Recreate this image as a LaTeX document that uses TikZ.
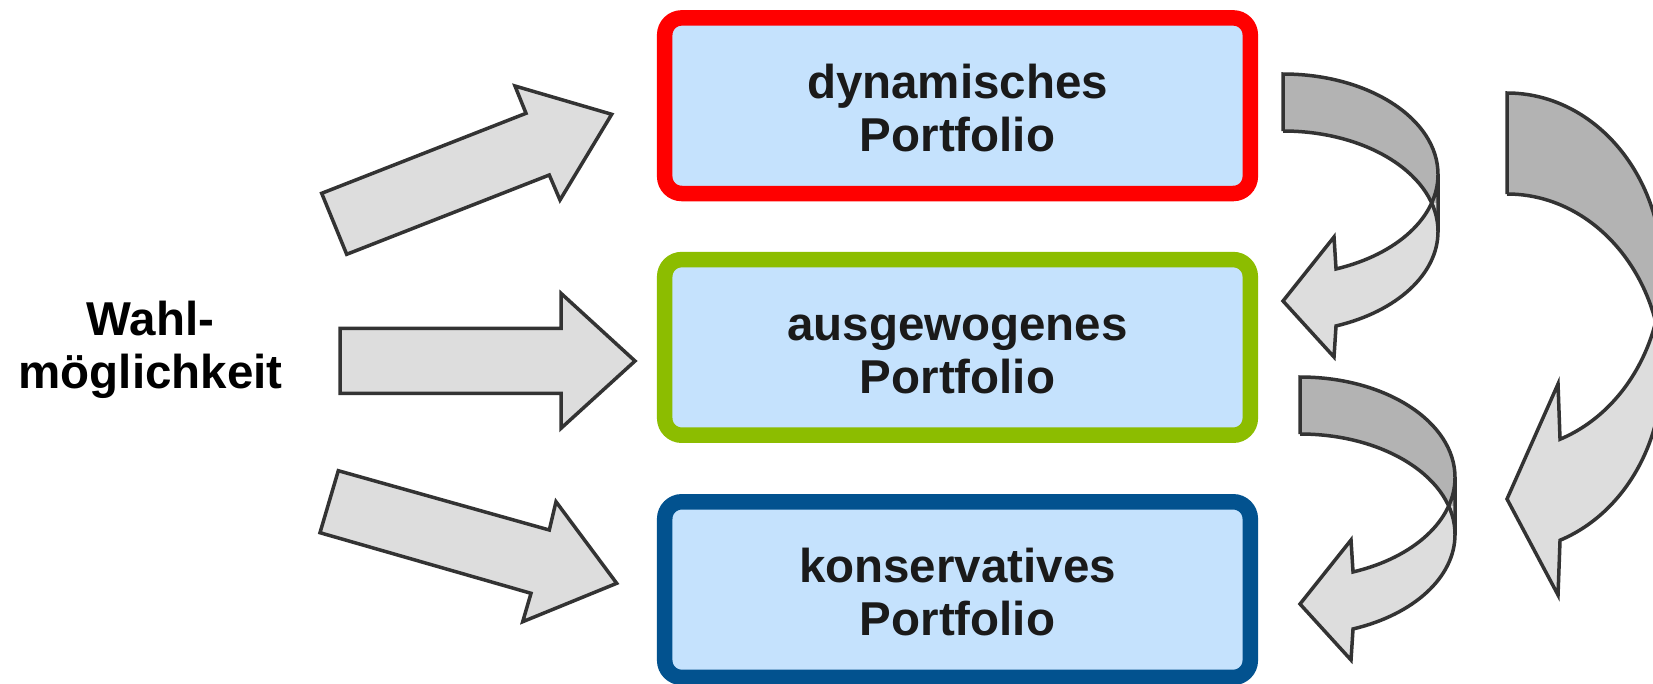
\documentclass[tikz,border=0pt]{standalone}
\usepackage{fontspec}
\setmainfont{Liberation Sans}
\definecolor{boxfill}{HTML}{C5E2FD}
\definecolor{redb}{HTML}{FF0000}
\definecolor{greenb}{HTML}{8CBD00}
\definecolor{blueb}{HTML}{02528F}
\definecolor{arrlight}{HTML}{DDDDDD}
\definecolor{arrdark}{HTML}{B3B3B3}
\definecolor{arrline}{HTML}{333333}
\definecolor{textcol}{HTML}{1A1A1A}
\newcommand{\lblfont}{\fontsize{47.5}{53}\selectfont\bfseries}
\newcommand{\fl}{\rule{0pt}{39.5pt}}
\tikzset{
  pbox/.style={draw, line width=15.5pt, rounded corners=17pt, fill=boxfill,
    minimum width=585.6pt, minimum height=175.6pt, inner sep=0pt,
    align=center, font=\lblfont, text=textcol},
  blockarr/.style={fill=arrlight, draw=arrline, line width=3.5pt, line join=miter},
  arrout/.style={draw=arrline, line width=3.5pt, line join=miter}
}
% curved arrow: #1 cx, #2 cy (screen), #3 rx, #4 ry, #5 thickness, #6 head top, #7 tip, #8 head bottom (below cy)
\newcommand{\curvedarr}[8]{%
  \pgfmathsetmacro\cAx{#1}%
  \pgfmathsetmacro\cAy{-(#2)}%
  \pgfmathsetmacro\cArx{#3}%
  \pgfmathsetmacro\cAry{#4}%
  \pgfmathsetmacro\cAt{#5}%
  \pgfmathsetmacro\cAphi{asin(#5/2/#4)}%
  \pgfmathsetmacro\cAxx{#1+#3*cos(\cAphi)}%
  \pgfmathsetmacro\cAnx{#1+#3*cos(70)}%
  \pgfmathsetmacro\cAny{\cAy-#4*sin(70)}%
  \pgfmathsetmacro\cAnyb{\cAy-#5-#4*sin(70)}%
  \pgfmathsetmacro\cAhx{\cAnx-2}%
  \fill[arrdark] (\cAx,\cAy+\cAry)
    arc[start angle=90,end angle=0,x radius=\cArx,y radius=\cAry]
    -- (\cAx+\cArx,\cAy-\cAt/2) -- (\cAxx,\cAy-\cAt/2)
    arc[start angle=\cAphi,end angle=90,x radius=\cArx,y radius=\cAry] -- cycle;
  \fill[arrlight] (\cAx+\cArx,\cAy-\cAt/2) -- (\cAxx,\cAy-\cAt/2)
    arc[start angle=-\cAphi,end angle=-70,x radius=\cArx,y radius=\cAry]
    -- (\cAhx,\cAy-#6) -- (\cAx,\cAy-#7) -- (\cAhx,\cAy-#8) -- (\cAnx,\cAnyb)
    arc[start angle=-70,end angle=0,x radius=\cArx,y radius=\cAry] -- cycle;
  \draw[arrout] (\cAx,\cAy-\cAt+\cAry) -- (\cAx,\cAy+\cAry)
    arc[start angle=90,end angle=0,x radius=\cArx,y radius=\cAry]
    -- (\cAx+\cArx,\cAy-\cAt)
    arc[start angle=0,end angle=-70,x radius=\cArx,y radius=\cAry]
    -- (\cAhx,\cAy-#8) -- (\cAx,\cAy-#7) -- (\cAhx,\cAy-#6) -- (\cAnx,\cAny)
    arc[start angle=-70,end angle=0,x radius=\cArx,y radius=\cAry];
  \draw[arrout] (\cAx,\cAy-\cAt+\cAry)
    arc[start angle=90,end angle=0,x radius=\cArx,y radius=\cAry];
}
\begin{document}
\begin{tikzpicture}[x=1pt,y=1pt]
\useasboundingbox (0,0) rectangle (1653,-683);
\clip (0,0) rectangle (1653,-683);
\fill[white] (0,0) rectangle (1653,-683);

% label
\node[font=\lblfont, text=black, align=center, inner sep=0pt] (wahl) at (150.5,-347.75) {\fl Wahl-\\möglichkeit};

% boxes
\node[pbox, draw=redb] (dyn) at (957.5,-105.7) {\fl dynamisches\\Portfolio};
\node[pbox, draw=greenb] (aus) at (957.5,-347.4) {\fl ausgewogenes\\Portfolio};
\node[pbox, draw=blueb] (kon) at (957.5,-589.6) {\fl konservatives\\Portfolio};

% straight block arrows
\draw[blockarr] (321.7,-193.3) -- (526,-113.3) -- (515,-86) -- (611.7,-114.3)
  -- (560,-200) -- (549.3,-175) -- (346.7,-254.3) -- cycle;
\draw[blockarr] (340,-328.3) -- (561,-328.3) -- (561,-293.3) -- (635,-361)
  -- (561,-428.3) -- (561,-393.3) -- (340,-393.3) -- cycle;
\draw[blockarr] (338.3,-470.7) -- (549.3,-530) -- (556,-501.7) -- (616.7,-583.3)
  -- (522.7,-621.7) -- (531,-593.3) -- (320,-532.7) -- cycle;

% curved arrows
\curvedarr{1283}{174.5}{155}{100.5}{57}{62.5}{126.5}{182.5}
\curvedarr{1300}{477.5}{155}{100.5}{57}{62.5}{126.5}{182.5}
\curvedarr{1507}{271.5}{155}{178.5}{101}{112.5}{227.5}{323.5}
\end{tikzpicture}
\end{document}
